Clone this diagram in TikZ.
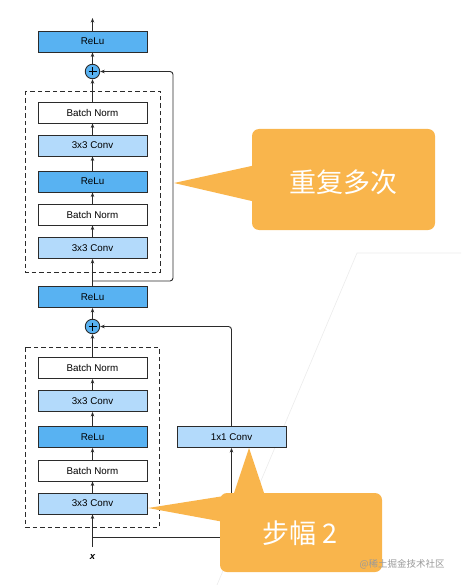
\documentclass[tikz,border=0pt]{standalone}
\usepackage{fontspec}
\setmainfont{Liberation Sans}
\newfontfamily\cjk{Noto Sans CJK SC}
\usetikzlibrary{arrows.meta}
\definecolor{reludark}{HTML}{58B2F2}
\definecolor{convlight}{HTML}{B3DAFB}
\definecolor{calloutorange}{HTML}{F9B54C}
\definecolor{boxline}{HTML}{2B2B2B}
\tikzset{
  layer/.style={draw=boxline, line width=0.9pt, minimum width=109pt, minimum height=21pt, inner sep=0pt, font=\fontsize{9.8}{11}\selectfont},
  relubox/.style={layer, fill=reludark},
  convbox/.style={layer, fill=convlight},
  normbox/.style={layer, fill=white},
  addnode/.style={circle, draw=boxline, line width=0.9pt, fill=reludark, minimum size=14.5pt, inner sep=0pt},
  flow/.style={draw=boxline, line width=0.9pt, -{Stealth[length=4.5pt,width=3.5pt]}},
  blockframe/.style={draw=boxline, line width=0.9pt, dash pattern=on 4.5pt off 3pt},
  callout/.style={fill=calloutorange, draw=none},
  callouttext/.style={text=white, font=\cjk\fontsize{27}{30}\selectfont}
}
\begin{document}
\begin{tikzpicture}[x=1pt, y=-1pt]
		%%%%% START %%%%%
		\useasboundingbox (0,0) rectangle (461,585);
		
		% faint background edge
		\draw[black!8, line width=0.6pt] (461,253) -- (357,253) -- (217,585);
		
		% upper residual block
		\node[relubox] (reluout) at (92.5,41.5) {ReLu};
		\coordinate (topend) at (92.5,18);
		\node[addnode] (addtop) at (92.5,71.5) {};
		\draw[line width=0.9pt] (addtop.center) ++(-4,0) -- ++(8,0) (addtop.center) ++(0,-4) -- ++(0,8);
		\draw[blockframe] (25,91) rectangle (160,272);
		\node[normbox] (bnb) at (92.5,112.5) {Batch Norm};
		\node[convbox] (convb) at (92.5,145.5) {3x3 Conv};
		\node[relubox] (relua) at (92.5,181.5) {ReLu};
		\node[normbox] (bna) at (92.5,214.5) {Batch Norm};
		\node[convbox] (conva) at (92.5,248) {3x3 Conv};
		
		\draw[flow] (reluout.north) -- (topend);
		\draw[flow] (addtop.north) -- (reluout.south);
		\draw[flow] (bnb.north) -- (addtop.south);
		\draw[flow] (convb.north) -- (bnb.south);
		\draw[flow] (relua.north) -- (convb.south);
		\draw[flow] (bna.north) -- (relua.south);
		\draw[flow] (conva.north) -- (bna.south);
		
		% middle relu and upper shortcut
		\node[relubox] (relumid) at (92.5,297) {ReLu};
		\coordinate (splittop) at (92.5,281);
		\draw[flow] (relumid.north) -- (conva.south);
		\draw[flow, rounded corners=3pt] (splittop) -| (173,71.5) -- (addtop.east);
		
		% lower residual block
		\node[addnode] (addlow) at (92.5,326.5) {};
		\draw[line width=0.9pt] (addlow.center) ++(-4,0) -- ++(8,0) (addlow.center) ++(0,-4) -- ++(0,8);
		\draw[blockframe] (25,347) rectangle (159,527);
		\node[normbox] (bnd) at (92.5,368) {Batch Norm};
		\node[convbox] (convd) at (92.5,401) {3x3 Conv};
		\node[relubox] (reluc) at (92.5,437) {ReLu};
		\node[normbox] (bnc) at (92.5,470.5) {Batch Norm};
		\node[convbox] (convc) at (92.5,503.5) {3x3 Conv};
		\node[convbox] (proj) at (231.5,437) {1x1 Conv};
		
		\draw[flow] (addlow.north) -- (relumid.south);
		\draw[flow] (bnd.north) -- (addlow.south);
		\draw[flow] (convd.north) -- (bnd.south);
		\draw[flow] (reluc.north) -- (convd.south);
		\draw[flow] (bnc.north) -- (reluc.south);
		\draw[flow] (convc.north) -- (bnc.south);
		
		% input and projection shortcut
		\node[font=\bfseries\itshape\fontsize{9.5}{10}\selectfont] (xin) at (92.5,557) {x};
		\coordinate (xstart) at (92.5,547);
		\coordinate (splitlow) at (92.5,537);
		\draw[flow] (xstart) -- (convc.south);
		\draw[flow] (splitlow) -| (proj.south);
		\draw[flow, rounded corners=3pt] (proj.north) |- (addlow.east);
		
		% callouts
		\fill[callout, rounded corners=7pt] (252,129) rectangle (435,230);
		\fill[callout] (174,183) -- (256,165) -- (256,202) -- cycle;
		\node[callouttext] (repeatnote) at (343,182) {重复多次};
		
		\fill[callout, rounded corners=7pt] (220,493) rectangle (382,572);
		\fill[callout] (148,508) -- (224,496) -- (224,522) -- cycle;
		\fill[callout] (249,448) -- (233,496) -- (265,496) -- cycle;
		\node[callouttext] (stridenote) at (300,533) {步幅 2};
		\node[text=black!40, font=\cjk\fontsize{9.5}{10}\selectfont] (mark) at (402,564) {@稀土掘金技术社区};
		
		%%%%% END %%%%%
	\end{tikzpicture}
\end{document}
